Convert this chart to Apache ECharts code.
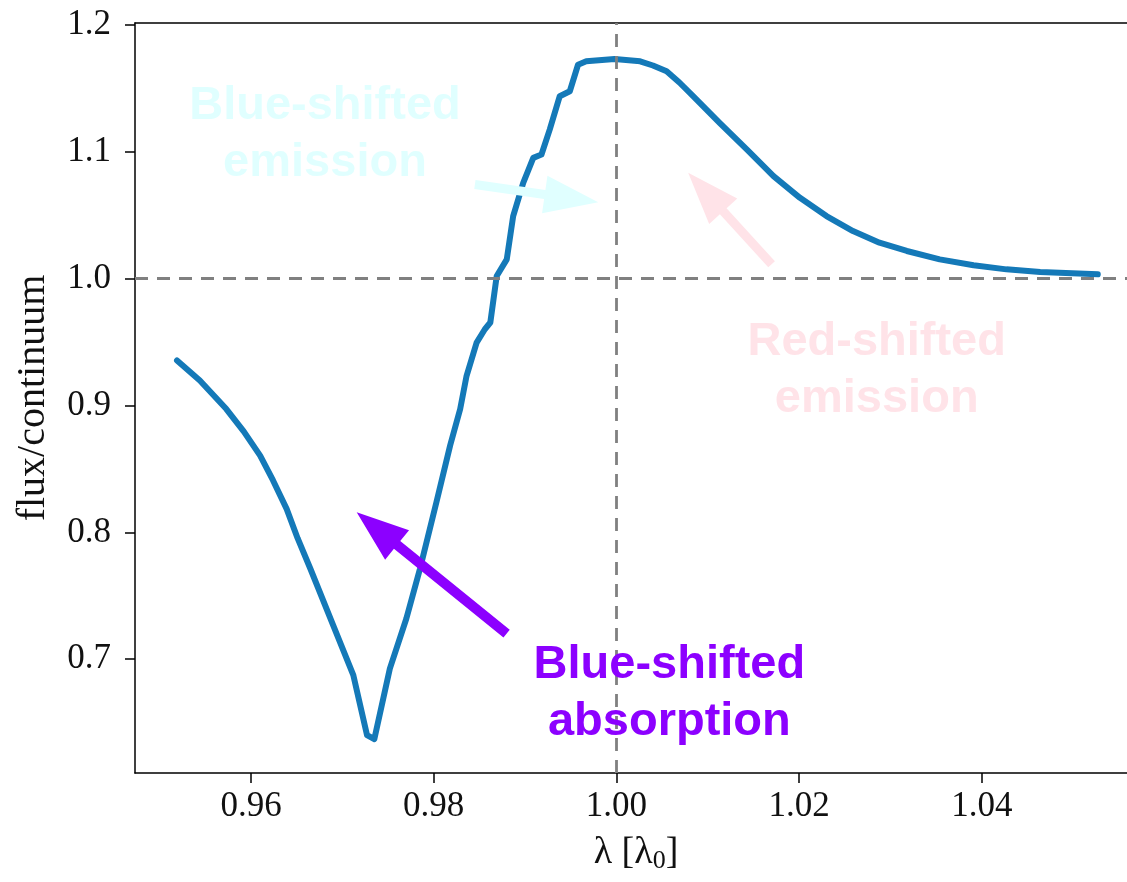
<!DOCTYPE html>
<html><head><meta charset="utf-8">
<script src="https://cdn.jsdelivr.net/npm/echarts@6/dist/echarts.min.js"></script>
<style>html,body{margin:0;padding:0;background:#fff}#c{width:1127px;height:882px}</style>
</head><body><div id="c"></div>
<script>
// wavelength in units of lambda_0
const lambda = [0.9519, 0.9544, 0.9573, 0.9592, 0.9610, 0.9624, 0.9639, 0.9651, 0.9665, 0.9690,
  0.9712, 0.9727, 0.9735, 0.9752, 0.9770, 0.9785, 0.9803, 0.9818, 0.9829, 0.9836,
  0.9847, 0.9856, 0.9862, 0.9869, 0.9880, 0.9887, 0.9898, 0.9909, 0.9918, 0.9927,
  0.9938, 0.9949, 0.9958, 0.9967, 0.9998, 1.0026, 1.0040, 1.0055, 1.0069, 1.0084,
  1.0113, 1.0143, 1.0172, 1.0201, 1.0230, 1.0259, 1.0288, 1.0318, 1.0354, 1.0391,
  1.0427, 1.0464, 1.0527];
// flux / continuum
const flux = [0.9355, 0.9197, 0.8972, 0.8796, 0.8605, 0.8411, 0.8185, 0.7954, 0.7713, 0.7267,
  0.6874, 0.6402, 0.6370, 0.6926, 0.7319, 0.7713, 0.8238, 0.8684, 0.8972, 0.9234,
  0.9496, 0.9601, 0.9654, 1.0021, 1.0152, 1.0493, 1.0755, 1.0952, 1.0978, 1.1175,
  1.1438, 1.1477, 1.1686, 1.1713, 1.1731, 1.1713, 1.1680, 1.1634, 1.1546, 1.1438,
  1.1227, 1.1017, 1.0808, 1.0637, 1.0493, 1.0375, 1.0283, 1.0218, 1.0152, 1.0105,
  1.0073, 1.0052, 1.0034];
const xTicks = [0.96, 0.98, 1.00, 1.02, 1.04];
const yTicks = [0.7, 0.8, 0.9, 1.0, 1.1, 1.2];
const refLineX = 1.0;
const refLineY = 1.0;

// annotations (text + arrow), anchored in data coordinates
const annotText = ['Blue-shifted\nemission', 'Red-shifted\nemission', 'Blue-shifted\nabsorption'];
const annotTextAt = [[0.9681, 1.1133], [1.0285, 0.9276], [1.0058, 0.6727]];
const arrowFrom = [[0.98451, 1.0742], [1.01699, 1.0113], [0.98798, 0.7201]];
const arrowTo = [[0.99801, 1.0603], [1.00786, 1.0834], [0.97157, 0.8159]];
const annotColor = ['#e0ffff', '#ffe3e8', '#8c00ff'];

const serif = "'Liberation Serif', 'DejaVu Serif', serif";
const chart = echarts.init(document.getElementById('c'), null, {renderer: 'canvas'});
const axisLineStyle = {color: '#000', width: 1.5};
const X_MIN = 0.9473, X_MAX = 1.0559;
chart.setOption({
  animation: false,
  backgroundColor: '#fff',
  grid: {left: 135, top: 23, right: 0, bottom: 109, show: false},
  xAxis: [{
    type: 'value', min: X_MIN, max: X_MAX,
    name: '{a|λ [λ}{s|0}{a|]}', nameLocation: 'middle', nameGap: 60,
    nameTextStyle: {fontFamily: serif, fontSize: 38, color: '#111', padding: [0, 0, 0, 10],
      rich: {a: {fontFamily: serif, fontSize: 38, color: '#111'},
             s: {fontFamily: serif, fontSize: 26, color: '#111', padding: [15, 0, 0, 0]}}},
    axisLine: {show: true, lineStyle: axisLineStyle},
    axisTick: {show: true, length: 10, lineStyle: axisLineStyle, customValues: xTicks},
    axisLabel: {customValues: xTicks, formatter: v => v.toFixed(2), fontFamily: serif, fontSize: 35, color: '#111', margin: 16},
    splitLine: {show: false}
  }, {
    type: 'value', position: 'top', min: X_MIN, max: X_MAX,
    axisLine: {show: true, onZero: false, lineStyle: axisLineStyle},
    axisTick: {show: false}, axisLabel: {show: false}, splitLine: {show: false}
  }],
  yAxis: {
    type: 'value', min: 0.6103, max: 1.2015,
    name: 'flux/continuum', nameLocation: 'middle', nameGap: 82,
    nameTextStyle: {fontFamily: serif, fontSize: 40, color: '#111'},
    axisLine: {show: true, lineStyle: axisLineStyle},
    axisTick: {show: true, length: 10, lineStyle: axisLineStyle, customValues: yTicks},
    axisLabel: {customValues: yTicks, formatter: v => v.toFixed(1), fontFamily: serif, fontSize: 35, color: '#111', margin: 24},
    splitLine: {show: false}
  },
  series: [{
    type: 'line',
    xAxisIndex: 0,
    data: lambda.map((x, i) => [x, flux[i]]),
    showSymbol: false,
    lineStyle: {color: '#1479b8', width: 6, cap: 'round', join: 'round'},
    z: 2,
    markLine: {
      silent: true, symbol: ['none', 'none'], label: {show: false},
      lineStyle: {color: '#808080', width: 2.8, type: [13, 9]},
      data: [{yAxis: refLineY}, {xAxis: refLineX}],
      z: 3
    }
  }]
});

function arrowPoints(p0, p1, sw, hl, hw) {
  const dx = p1[0] - p0[0], dy = p1[1] - p0[1];
  const L = Math.hypot(dx, dy);
  const ux = dx / L, uy = dy / L, nx = -uy, ny = ux;
  const bx = p1[0] - ux * hl, by = p1[1] - uy * hl;
  return [
    [p0[0] + nx * sw / 2, p0[1] + ny * sw / 2],
    [bx + nx * sw / 2, by + ny * sw / 2],
    [bx + nx * hw / 2, by + ny * hw / 2],
    [p1[0], p1[1]],
    [bx - nx * hw / 2, by - ny * hw / 2],
    [bx - nx * sw / 2, by - ny * sw / 2],
    [p0[0] - nx * sw / 2, p0[1] - ny * sw / 2]
  ];
}
const shaftW = [9, 9, 10], headL = [54, 52, 52], headW = [38, 38, 38];
const graphics = [];
for (let i = 0; i < annotText.length; i++) {
  const a = chart.convertToPixel({gridIndex: 0}, arrowFrom[i]);
  const b = chart.convertToPixel({gridIndex: 0}, arrowTo[i]);
  graphics.push({type: 'polygon', z: 10, silent: true,
    shape: {points: arrowPoints(a, b, shaftW[i], headL[i], headW[i])},
    style: {fill: annotColor[i]}});
  const t = chart.convertToPixel({gridIndex: 0}, annotTextAt[i]);
  graphics.push({type: 'text', z: 10, silent: true, x: t[0], y: t[1],
    style: {text: annotText[i], fill: annotColor[i], font: "bold 47px 'Liberation Sans', Arial, sans-serif",
      align: 'center', verticalAlign: 'middle', lineHeight: 57}});
}
chart.setOption({graphic: graphics});
</script>
</body></html>
